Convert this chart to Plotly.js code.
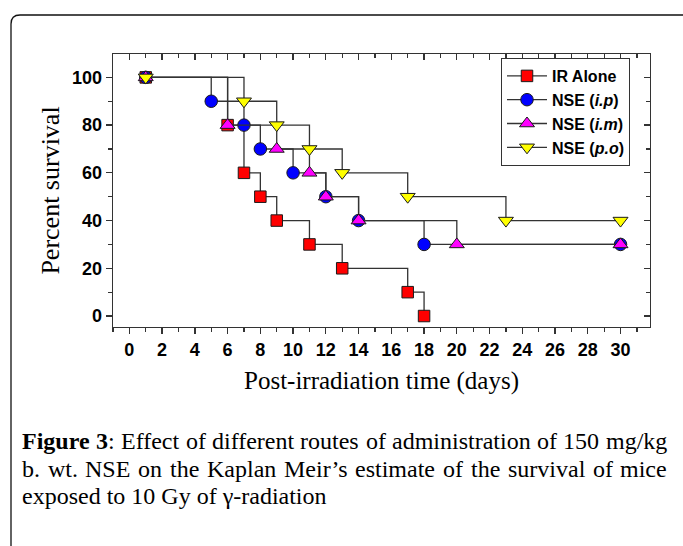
<!DOCTYPE html>
<html><head><meta charset="utf-8">
<script src="https://cdn.plot.ly/plotly-3.0.1.min.js"></script>
<style>html,body{margin:0;padding:0;background:#fff;} #chart{width:683px;height:546px;}</style>
</head><body><div id="chart"></div>
<script>
// ---- data ----
const daysIR = [1, 6, 7, 8, 9, 11, 13, 17, 18];
const survIR = [100, 80, 60, 50, 40, 30, 20, 10, 0];
const daysIP = [1, 5, 7, 8, 10, 12, 14, 18, 30];
const survIP = [100, 90, 80, 70, 60, 50, 40, 30, 30];
const daysIM = [1, 6, 9, 11, 12, 14, 20, 30];
const survIM = [100, 80, 70, 60, 50, 40, 30, 30];
const daysPO = [1, 7, 9, 11, 13, 17, 23, 30];
const survPO = [100, 90, 80, 70, 60, 50, 40, 40];
const seriesNames = ['IR Alone', 'NSE (<i>i.p</i>)', 'NSE (<i>i.m</i>)', 'NSE (<i>p.o</i>)'];
const xTitle = 'Post-irradiation time (days)';
const yTitle = 'Percent survival';
const captionLines = [
  '*Figure* *3*: Effect of different routes of administration of 150 mg/kg',
  'b. wt. NSE on the Kaplan Meir\u2019s estimate of the survival of mice',
  'exposed to 10 Gy of \u03b3-radiation'
];

// ---- layout geometry ----
const W = 683, H = 546, ML = 113, MR = 33, MT = 54, MB = 219;
const PW = W - ML - MR, PH = H - MT - MB;
const px = x => (x - ML) / PW;
const py = y => (H - MB - y) / PH;

const lineCol = '#333333';
const edge = '#1a1a1a';
function mk(x, y, name, symbol, size, color) {
  return {
    x: x, y: y, name: name, type: 'scatter', mode: 'lines+markers',
    line: {shape: 'hv', color: lineCol, width: 1.3},
    marker: {symbol: symbol, size: size, color: color, line: {color: edge, width: 1}},
    cliponaxis: false
  };
}
const traces = [
  mk(daysIR, survIR, seriesNames[0], 'square', 11.5, '#ff0000'),
  mk(daysIP, survIP, seriesNames[1], 'circle', 12.5, '#0000ff'),
  mk(daysIM, survIM, seriesNames[2], 'triangle-up', 13, '#ff00ff'),
  mk(daysPO, survPO, seriesNames[3], 'triangle-down', 13, '#ffff00'),
  {x: [], y: [], xaxis: 'x2', yaxis: 'y2', type: 'scatter', mode: 'markers', showlegend: false, hoverinfo: 'skip'}
];

const tickFont = {family: 'Liberation Sans, Arial, sans-serif', size: 18, color: '#000', weight: 'bold'};
const xr = [-1, 31.8], yr = [-4.6, 109.8];
const baseAx = {
  showline: true, linecolor: lineCol, linewidth: 1.3, showgrid: false, zeroline: false,
  ticklen: 6, tickwidth: 1.3, tickcolor: lineCol, tickmode: 'linear', fixedrange: true
};

// caption annotations (justified lines measured with canvas)
const ctx = document.createElement('canvas').getContext('2d');
const capSize = 24, capFam = "'Liberation Serif'";
function parseWord(w) {
  const parts = w.split('*'); const segs = [];
  parts.forEach((p, i) => { if (p) segs.push([p, i % 2 === 1]); });
  return segs;
}
function measure(segs) {
  let t = 0;
  segs.forEach(s => { ctx.font = (s[1] ? 'bold ' : '') + capSize + 'px ' + capFam; t += ctx.measureText(s[0]).width; });
  return t;
}
function html(segs) { return segs.map(s => s[1] ? '<b>' + s[0] + '</b>' : s[0]).join(''); }
const capLeft = 21, capRight = 666, capY = [441, 468.5, 496];
const annotations = [];
captionLines.forEach((line, li) => {
  const words = line.split(' ').map(parseWord);
  const widths = words.map(measure);
  const justify = li < captionLines.length - 1;
  const capFont = {family: 'Liberation Serif, serif', size: capSize, color: '#000'};
  if (!justify) {
    annotations.push({xref: 'paper', yref: 'paper', x: px(capLeft), y: py(capY[li]), xanchor: 'left', yanchor: 'middle',
      text: words.map(html).join(' '), showarrow: false, borderpad: 0, font: capFont});
    return;
  }
  const total = widths.reduce((a, b) => a + b, 0);
  const gap = (capRight - capLeft - total) / (words.length - 1);
  let x = capLeft;
  words.forEach((w, i) => {
    annotations.push({xref: 'paper', yref: 'paper', x: px(x), y: py(capY[li]), xanchor: 'left', yanchor: 'middle',
      text: html(w), showarrow: false, borderpad: 0, font: capFont});
    x += widths[i] + gap;
  });
});

// border frame (rounded corner at top-left, continues past the page)
const bx0 = 11, by0 = 15, rad = 9;
const framePath = 'M ' + px(bx0) + ' ' + py(560) + ' L ' + px(bx0) + ' ' + py(by0 + rad) +
  ' Q ' + px(bx0) + ' ' + py(by0) + ' ' + px(bx0 + rad) + ' ' + py(by0) +
  ' L ' + px(700) + ' ' + py(by0);

const layout = {
  width: W, height: H,
  margin: {l: ML, r: MR, t: MT, b: MB},
  paper_bgcolor: '#fff', plot_bgcolor: '#fff',
  showlegend: true,
  legend: {
    x: px(501), y: py(58), xanchor: 'left', yanchor: 'top',
    bordercolor: lineCol, borderwidth: 1, bgcolor: '#fff',
    font: {family: 'Liberation Sans, Arial, sans-serif', size: 16, color: '#000', weight: 'bold'},
    itemwidth: 40, tracegroupgap: 0
  },
  xaxis: Object.assign({}, baseAx, {
    range: xr, tick0: 0, dtick: 2, ticks: 'outside', tickfont: tickFont,
    minor: {ticks: 'outside', tick0: 0, dtick: 1, ticklen: 4, tickwidth: 1.3, tickcolor: lineCol, showgrid: false},
    title: {text: xTitle, font: {family: 'Liberation Serif, serif', size: 25, color: '#000'}, standoff: 12},
    automargin: false
  }),
  yaxis: Object.assign({}, baseAx, {
    range: yr, tick0: 0, dtick: 20, ticks: 'outside', tickfont: tickFont,
    minor: {ticks: 'outside', tick0: 0, dtick: 10, ticklen: 4, tickwidth: 1.3, tickcolor: lineCol, showgrid: false},
    title: {text: yTitle, font: {family: 'Liberation Serif, serif', size: 26, color: '#000'}, standoff: 5},
    automargin: false
  }),
  xaxis2: Object.assign({}, baseAx, {
    range: xr, tick0: 0, dtick: 2, ticks: 'inside', showticklabels: false,
    overlaying: 'x', side: 'top', anchor: 'y2',
    minor: {ticks: 'inside', tick0: 0, dtick: 1, ticklen: 4, tickwidth: 1.3, tickcolor: lineCol, showgrid: false}
  }),
  yaxis2: Object.assign({}, baseAx, {
    range: yr, tick0: 0, dtick: 20, ticks: 'inside', showticklabels: false,
    overlaying: 'y', side: 'right', anchor: 'x2',
    minor: {ticks: 'inside', tick0: 0, dtick: 10, ticklen: 4, tickwidth: 1.3, tickcolor: lineCol, showgrid: false}
  }),
  shapes: [{type: 'path', xref: 'paper', yref: 'paper', path: framePath, line: {color: '#111', width: 1.3}, layer: 'below'}],
  annotations: annotations
};

Plotly.newPlot('chart', traces, layout, {displayModeBar: false, staticPlot: true});
</script>
</body></html>
